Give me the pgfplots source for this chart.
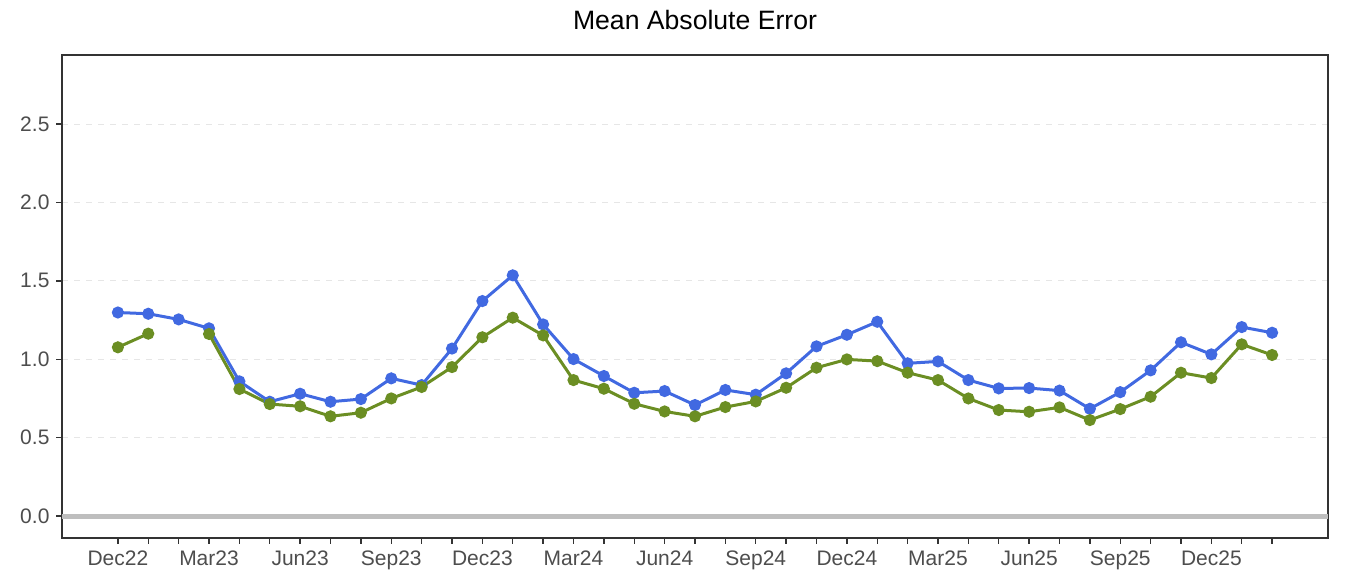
\documentclass[border=0pt]{standalone}
\usepackage{pgfplots}
\pgfplotsset{compat=1.18}
\usepackage{pgfplotstable}
\usepackage{fontspec}
\setmainfont{Liberation Sans}
\definecolor{serblue}{HTML}{4169E1}
\definecolor{sergreen}{HTML}{6B8E23}
\definecolor{ticktext}{HTML}{4D4D4D}
\definecolor{frame}{HTML}{333333}
\definecolor{zeroline}{HTML}{BEBEBE}
\definecolor{gridc}{HTML}{E6E6E6}

\pgfplotstableread{
x blue green
0 1.298 1.076
1 1.290 1.163
2 1.254 nan
3 1.197 1.161
4 0.859 0.810
5 0.729 0.714
6 0.780 0.700
7 0.729 0.636
8 0.746 0.659
9 0.878 0.750
10 0.835 0.823
11 1.068 0.950
12 1.371 1.140
13 1.535 1.265
14 1.222 1.152
15 1.001 0.867
16 0.893 0.812
17 0.786 0.716
18 0.797 0.667
19 0.708 0.636
20 0.804 0.695
21 0.774 0.731
22 0.910 0.818
23 1.082 0.946
24 1.156 0.999
25 1.239 0.988
26 0.974 0.914
27 0.986 0.867
28 0.867 0.750
29 0.814 0.676
30 0.816 0.665
31 0.800 0.693
32 0.684 0.612
33 0.790 0.682
34 0.929 0.761
35 1.108 0.914
36 1.031 0.880
37 1.205 1.095
38 1.169 1.027
}\maetable

\begin{document}
\begin{tikzpicture}
\begin{axis}[
  scale only axis,
  width=633pt, height=241.5pt,
  xmin=-1.84, xmax=39.84,
  ymin=-0.14, ymax=2.94,
  axis line style={frame, line width=0.7pt},
  xtick={0,...,38},
  xticklabels={Dec22,,,Mar23,,,Jun23,,,Sep23,,,Dec23,,,Mar24,,,Jun24,,,Sep24,,,Dec24,,,Mar25,,,Jun25,,,Sep25,,,Dec25,,},
  ytick={0,0.5,1,1.5,2,2.5},
  yticklabel style={/pgf/number format/.cd, fixed, fixed zerofill, precision=1},
  /pgf/number format/assume math mode=true,
  tick label style={font=\fontsize{10.5pt}{12pt}\selectfont, text=ticktext},
  tick align=outside,
  major tick length=2.75pt,
  tick style={frame, line width=0.7pt},
  xtick pos=bottom, ytick pos=left,
  ymajorgrids,
  major grid style={gridc, dashed, line width=0.4pt},
  title={Mean Absolute Error},
  title style={font=\fontsize{13.3pt}{15pt}\selectfont, yshift=3pt},
  unbounded coords=jump,
  clip=true,
]
\addplot[zeroline, line width=2.5pt, forget plot] coordinates {(-1.84,0) (39.84,0)};
\addplot[serblue, line width=1.5pt, mark=*, mark size=2.25pt, mark options={solid, fill=serblue, draw=serblue}] table[x=x, y=blue] {\maetable};
\addplot[sergreen, line width=1.5pt, mark=*, mark size=2.25pt, mark options={solid, fill=sergreen, draw=sergreen}] table[x=x, y=green] {\maetable};
\end{axis}
\pgfresetboundingbox
\path (current axis.south west) ++(-31pt,-18pt) coordinate (bbsw);
\path (current axis.north east) ++(9.5pt,27.5pt) coordinate (bbne);
\path (bbsw) rectangle (bbne);
\end{tikzpicture}
\end{document}
